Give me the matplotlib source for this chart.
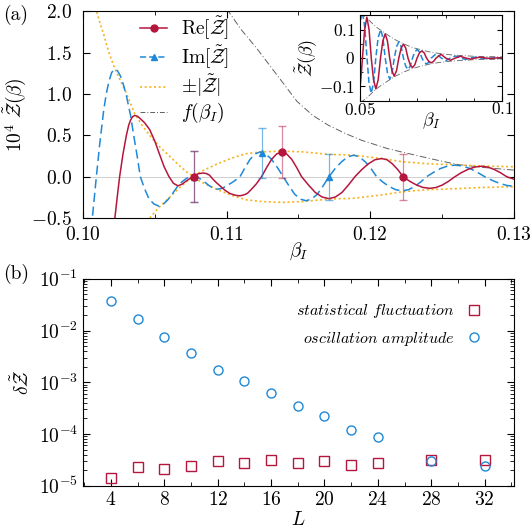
import numpy as np
import matplotlib
matplotlib.use("Agg")
import matplotlib.pyplot as plt
from matplotlib.ticker import MultipleLocator, FuncFormatter, LogLocator, NullFormatter

plt.rcParams['font.family'] = 'serif'
plt.rcParams['font.serif'] = ['cmr10']
plt.rcParams['mathtext.fontset'] = 'cm'
plt.rcParams['axes.formatter.use_mathtext'] = True
plt.rcParams['font.size'] = 14

RED = '#b5163e'
BLUE = '#1f88d8'
ORANGE = '#f5b21b'
GRAY = '#606060'

# ---- panel (a): main curves (units of 1e-4)
re_x = [0.1020, 0.10222, 0.10238, 0.10255, 0.10278, 0.10302, 0.10318, 0.10330, 0.10345,
        0.10360, 0.10380, 0.10400, 0.10430, 0.10464, 0.10500, 0.10533, 0.10565, 0.10599,
        0.10630, 0.10661, 0.10690, 0.10720, 0.10765, 0.10800, 0.10835, 0.10860, 0.10880,
        0.10905, 0.10928, 0.10960, 0.10990, 0.11020, 0.11044, 0.11070, 0.11093, 0.11120,
        0.11145, 0.11168, 0.11205, 0.11243, 0.11278, 0.11313, 0.11348, 0.11383, 0.11418,
        0.11453, 0.11488, 0.11522, 0.11570, 0.11617, 0.11665, 0.11712, 0.11757, 0.11803,
        0.11848, 0.11893, 0.11940, 0.11986, 0.12032, 0.12079, 0.12117, 0.12154, 0.12192,
        0.12229, 0.12275, 0.12322, 0.12368, 0.12415, 0.12458, 0.12502, 0.12545, 0.12589,
        0.12635, 0.12682, 0.12728, 0.12774, 0.12817, 0.12860, 0.12905, 0.12950, 0.13000]
re_y = [-0.85, -0.50, -0.25, 0.0, 0.27, 0.50, 0.62, 0.68, 0.725,
        0.74, 0.73, 0.70, 0.65, 0.57, 0.43, 0.27, 0.12, 0.0,
        -0.08, -0.11, -0.09, -0.05, 0.0, 0.035, 0.045, 0.038, 0.02,
        -0.03, -0.07, -0.12, -0.165, -0.20, -0.215, -0.227, -0.23, -0.22,
        -0.20, -0.16, -0.09, 0.0, 0.11, 0.21, 0.275, 0.30, 0.275,
        0.21, 0.11, 0.0, -0.10, -0.19, -0.245, -0.265, -0.245, -0.19,
        -0.10, 0.0, 0.085, 0.155, 0.205, 0.22, 0.205, 0.155, 0.085,
        0.0, -0.055, -0.10, -0.13, -0.14, -0.13, -0.10, -0.055, 0.0,
        0.05, 0.09, 0.117, 0.127, 0.117, 0.09, 0.05, 0.0, -0.03]

im_x = [0.10040, 0.10065, 0.10079, 0.10093, 0.10118, 0.10144, 0.10162, 0.10180, 0.10200,
        0.10221, 0.10240, 0.10260, 0.10280, 0.10302, 0.10330, 0.10355, 0.10378, 0.10399,
        0.10430, 0.10460, 0.10495, 0.10529, 0.10560, 0.10590, 0.10625, 0.10661, 0.10690,
        0.10720, 0.10745, 0.10772, 0.10800, 0.10830, 0.10855, 0.10880, 0.10910, 0.10940,
        0.10970, 0.11000, 0.11047, 0.11093, 0.11128, 0.11163, 0.11198, 0.11232, 0.11273,
        0.11313, 0.11354, 0.11394, 0.11434, 0.11473, 0.11513, 0.11552, 0.11592, 0.11632,
        0.11672, 0.11712, 0.11756, 0.11800, 0.11843, 0.11885, 0.11925, 0.11965, 0.12005,
        0.12044, 0.12088, 0.12133, 0.12178, 0.12222, 0.12265, 0.12307, 0.12350, 0.12392,
        0.12441, 0.12490, 0.12540, 0.12589, 0.12641, 0.12693, 0.12745, 0.12797, 0.12850,
        0.12900, 0.12950, 0.13000]
im_y = [-1.30, -0.50, -0.25, 0.0, 0.42, 0.80, 1.00, 1.15, 1.26,
        1.30, 1.28, 1.22, 1.12, 0.98, 0.75, 0.48, 0.24, 0.0,
        -0.15, -0.27, -0.33, -0.356, -0.33, -0.28, -0.20, -0.11, -0.06,
        -0.02, 0.0, 0.005, -0.01, -0.04, -0.075, -0.11, -0.14, -0.15,
        -0.14, -0.11, -0.06, 0.0, 0.11, 0.21, 0.275, 0.30, 0.275,
        0.21, 0.11, 0.0, -0.11, -0.21, -0.27, -0.29, -0.27, -0.21,
        -0.11, 0.0, 0.10, 0.18, 0.24, 0.26, 0.24, 0.18, 0.10,
        0.0, -0.065, -0.12, -0.157, -0.17, -0.157, -0.12, -0.065, 0.0,
        0.054, 0.10, 0.13, 0.14, 0.13, 0.10, 0.054, 0.0, -0.045,
        -0.08, -0.105, -0.115]

abs_x = [0.10080, 0.10093, 0.10118, 0.10144, 0.10180, 0.10221, 0.10260, 0.10302, 0.10360,
         0.10420, 0.10464, 0.10529, 0.10590, 0.10661, 0.10720, 0.10745, 0.10772, 0.10800,
         0.10830, 0.10928, 0.11044, 0.11140, 0.11245, 0.11383, 0.11532, 0.11712, 0.11885,
         0.12079, 0.12229, 0.12415, 0.12589, 0.12774, 0.13000]
abs_y = [2.10, 2.01, 1.86, 1.72, 1.50, 1.31, 1.16, 1.01, 0.76,
         0.60, 0.50, 0.37, 0.27, 0.15, 0.06, 0.03, 0.01, 0.04,
         0.07, 0.15, 0.23, 0.28, 0.30, 0.31, 0.30, 0.27, 0.26,
         0.22, 0.18, 0.155, 0.145, 0.13, 0.12]

f_x = [0.1100, 0.1110, 0.1121, 0.1135, 0.1149, 0.1160, 0.1171, 0.1183, 0.1194,
       0.1212, 0.1224, 0.1244, 0.1260, 0.1280, 0.1300]
f_y = [2.03, 1.78, 1.55, 1.23, 0.91, 0.74, 0.62, 0.52, 0.44,
       0.34, 0.29, 0.21, 0.15, 0.11, 0.08]

# points with error bars
re_pts_x = [0.10772, 0.11383, 0.12229]
re_pts_y = [0.0, 0.30, 0.0]
re_pts_err = [0.31, 0.31, 0.28]
im_pts_x = [0.10772, 0.11243, 0.11712]
im_pts_y = [0.0, 0.29, 0.0]
im_pts_err = [0.31, 0.30, 0.28]

# ---- inset (unscaled values)
in_re_x = [0.0500, 0.0504, 0.0508, 0.05158, 0.05235, 0.05313, 0.0539, 0.0547, 0.05551,
           0.05633, 0.05715, 0.05797, 0.05878, 0.05958, 0.06037, 0.06116, 0.06195, 0.06277,
           0.06358, 0.0644, 0.06522, 0.0660, 0.0668, 0.0676, 0.06838, 0.0692, 0.0700,
           0.07083, 0.07167, 0.0725, 0.0733, 0.0741, 0.07495, 0.0758, 0.0767, 0.07846,
           0.0800, 0.0817, 0.0835, 0.0852, 0.0870, 0.0888, 0.0905, 0.0922, 0.0940,
           0.0958, 0.0975, 0.1000]
in_re_y = [-0.10, -0.055, 0.0, 0.10, 0.144, 0.10, 0.0, -0.077, -0.109,
           -0.077, 0.0, 0.06, 0.085, 0.06, 0.0, -0.045, -0.064, -0.045,
           0.0, 0.035, 0.049, 0.035, 0.0, -0.024, -0.034, -0.024, 0.0,
           0.018, 0.025, 0.018, 0.0, -0.012, -0.017, -0.012, 0.0, 0.013,
           0.0, -0.008, 0.0, 0.006, 0.0, -0.004, 0.0, 0.003, 0.0,
           -0.002, 0.0, 0.001]
in_im_x = [0.0500, 0.0508, 0.0516, 0.0524, 0.0531, 0.05387, 0.0547, 0.0555, 0.0563,
           0.0572, 0.0580, 0.0588, 0.0596, 0.0604, 0.0612, 0.0620, 0.0628, 0.0636,
           0.0644, 0.0652, 0.0660, 0.0668, 0.0676, 0.0684, 0.0692, 0.0700, 0.07085,
           0.0717, 0.0725, 0.0733, 0.07415, 0.0750, 0.0767, 0.0785, 0.0800, 0.0817,
           0.0835, 0.0852, 0.0870, 0.0888, 0.0905, 0.0922, 0.0940, 0.0958, 0.1000]
in_im_y = [0.13, 0.16, 0.11, 0.0, -0.088, -0.124, -0.088, 0.0, 0.071,
           0.100, 0.071, 0.0, -0.053, -0.075, -0.053, 0.0, 0.04, 0.057,
           0.04, 0.0, -0.029, -0.041, -0.029, 0.0, 0.021, 0.030, 0.021,
           0.0, -0.015, -0.021, -0.015, 0.0, 0.015, 0.0, -0.010, 0.0,
           0.007, 0.0, -0.005, 0.0, 0.003, 0.0, -0.002, 0.0, 0.0]
in_env_x = [0.0500, 0.0524, 0.0555, 0.0588, 0.0620, 0.0652, 0.0684, 0.0717, 0.0750,
            0.0785, 0.0820, 0.0850, 0.0900, 0.0950, 0.1000]
in_env_y = [0.158, 0.14, 0.11, 0.087, 0.066, 0.05, 0.037, 0.028, 0.02,
            0.015, 0.011, 0.009, 0.006, 0.005, 0.004]

# ---- panel (b)
L_vals = [4, 6, 8, 10, 12, 14, 16, 18, 20, 22, 24, 28, 32]
stat_fluct = [1.44e-5, 2.3e-5, 2.1e-5, 2.4e-5, 3.0e-5, 2.7e-5, 3.1e-5, 2.7e-5, 2.95e-5,
              2.5e-5, 2.75e-5, 3.1e-5, 3.15e-5]
osc_amp = [0.038, 0.017, 0.0074, 0.0036, 0.00176, 0.00106, 0.00062, 0.00034, 0.00022,
           0.00012, 8.7e-5, 3.0e-5, 2.4e-5]

ZT = r'\tilde{\mathcal{Z}}'
DASH_F = (7, 2.5, 1, 2.5)


def style_ticks(ax, major=5, minor=3):
    ax.tick_params(which='both', direction='in', top=True, right=True)
    ax.tick_params(which='major', length=major, width=0.8)
    ax.tick_params(which='minor', length=minor, width=0.6)


def mfmt(fmt):
    return FuncFormatter(lambda v, p: '$' + (fmt % v) + '$')


fig = plt.figure(figsize=(5.32, 5.32), dpi=100)

# panel (a)
ax1 = fig.add_axes([0.156, 0.590, 0.810, 0.389])
ax1.axhline(0, color='#c8c8c8', lw=0.6, zorder=0)
ax1.plot(f_x, f_y, color=GRAY, lw=0.7, dashes=DASH_F, zorder=1)
ax1.plot(abs_x, abs_y, color=ORANGE, lw=1.2, dashes=(1.2, 1.6), zorder=2)
ax1.plot(abs_x, -np.array(abs_y), color=ORANGE, lw=1.2, dashes=(1.2, 1.6), zorder=2)
ax1.plot(im_x, im_y, color=BLUE, lw=1.1, dashes=(6, 3), zorder=3)
ax1.plot(re_x, re_y, color=RED, lw=1.1, zorder=4)
ax1.errorbar(im_pts_x, im_pts_y, yerr=im_pts_err, fmt='none', ecolor=BLUE, alpha=0.6,
             capsize=3, elinewidth=0.9, zorder=5)
ax1.errorbar(re_pts_x, re_pts_y, yerr=re_pts_err, fmt='none', ecolor=RED, alpha=0.5,
             capsize=3, elinewidth=0.9, zorder=5)
ax1.plot(im_pts_x, im_pts_y, '^', color=BLUE, ms=5, zorder=6)
ax1.plot(re_pts_x, re_pts_y, 'o', color=RED, ms=5, zorder=7)

# legend handles
h_re, = ax1.plot([], [], color=RED, lw=1.1, marker='o', ms=5)
h_im, = ax1.plot([], [], color=BLUE, lw=1.1, dashes=(4, 2), marker='^', ms=5)
h_abs, = ax1.plot([], [], color=ORANGE, lw=1.2, dashes=(1.2, 1.6))
h_f, = ax1.plot([], [], color=GRAY, lw=0.7, dashes=(5, 2, 1, 2))
ax1.legend([h_re, h_im, h_abs, h_f],
           [r'$\mathrm{Re}[' + ZT + ']$', r'$\mathrm{Im}[' + ZT + ']$',
            r'$\pm|' + ZT + '|$', r'$f(\beta_I)$'],
           loc='upper left', bbox_to_anchor=(0.092, 1.068), frameon=False,
           handlelength=1.4, labelspacing=0.1, handletextpad=0.7, fontsize=14)

ax1.set_xlim(0.10, 0.13)
ax1.set_ylim(-0.5, 2.0)
ax1.xaxis.set_major_locator(MultipleLocator(0.01))
ax1.xaxis.set_minor_locator(MultipleLocator(0.005))
ax1.yaxis.set_major_locator(MultipleLocator(0.5))
ax1.xaxis.set_major_formatter(mfmt('%.2f'))
ax1.yaxis.set_major_formatter(mfmt('%.1f'))
style_ticks(ax1)
ax1.tick_params(axis='x', pad=6)
ax1.tick_params(axis='y', pad=8)
ax1.set_xlabel(r'$\beta_I$', labelpad=-3)
ax1.set_ylabel(r'$10^4\ ' + ZT + r'(\beta)$', labelpad=2)

# inset
ax_in = fig.add_axes([0.677, 0.811, 0.2675, 0.160])
ax_in.plot(in_env_x, in_env_y, color=GRAY, lw=0.6, dashes=DASH_F)
ax_in.plot(in_env_x, -np.array(in_env_y), color=GRAY, lw=0.6, dashes=DASH_F)
ax_in.plot(in_im_x, in_im_y, color=BLUE, lw=1.1, dashes=(4, 2))
ax_in.plot(in_re_x, in_re_y, color=RED, lw=1.1)
ax_in.set_xlim(0.05, 0.1)
ax_in.set_ylim(-0.15, 0.15)
ax_in.set_xticks([0.05, 0.1])
ax_in.set_xticklabels(['$0.05$', '$0.1$'])
ax_in.xaxis.set_minor_locator(MultipleLocator(0.01))
ax_in.set_yticks([-0.1, 0, 0.1])
ax_in.set_yticklabels(['$-0.1$', '$0$', '$0.1$'])
ax_in.yaxis.set_minor_locator(MultipleLocator(0.05))
style_ticks(ax_in, 3.5, 2.5)
ax_in.tick_params(labelsize=12.5)
ax_in.tick_params(axis='x', pad=0)
ax_in.set_xlabel(r'$\beta_I$', labelpad=-5, fontsize=13)
ax_in.set_ylabel(r'$' + ZT + r'(\beta)$', labelpad=0, fontsize=13)

# panel (b)
ax2 = fig.add_axes([0.156, 0.087, 0.810, 0.389])
ax2.semilogy(L_vals, stat_fluct, 's', mfc='none', mec=RED, mew=1.0, ms=6.5,
             label=r'$statistical\ fluctuation$')
ax2.semilogy(L_vals, osc_amp, 'o', mfc='none', mec=BLUE, mew=1.0, ms=6.5,
             label=r'$oscillation\ amplitude$')
ax2.set_xlim(1.9, 34.2)
ax2.set_ylim(1e-5, 1e-1)
ax2.xaxis.set_major_locator(MultipleLocator(4))
ax2.xaxis.set_minor_locator(MultipleLocator(2))
ax2.yaxis.set_major_locator(LogLocator(base=10, numticks=10))
ax2.yaxis.set_minor_locator(LogLocator(base=10, subs=np.arange(2, 10), numticks=20))
ax2.yaxis.set_minor_formatter(NullFormatter())
ax2.xaxis.set_major_formatter(mfmt('%d'))
style_ticks(ax2)
ax2.set_xlabel(r'$L$', labelpad=2)
ax2.set_ylabel(r'$\delta' + ZT + '$', labelpad=4)
ax2.legend(loc='upper right', bbox_to_anchor=(0.955, 0.955), frameon=False, markerfirst=False,
           handlelength=0.8, handletextpad=0.8, labelspacing=0.6, fontsize=11.5)

fig.text(0.005, 0.962, '(a)', fontsize=14)
fig.text(0.005, 0.476, '(b)', fontsize=14)

fig.savefig('out.png', dpi=100)
